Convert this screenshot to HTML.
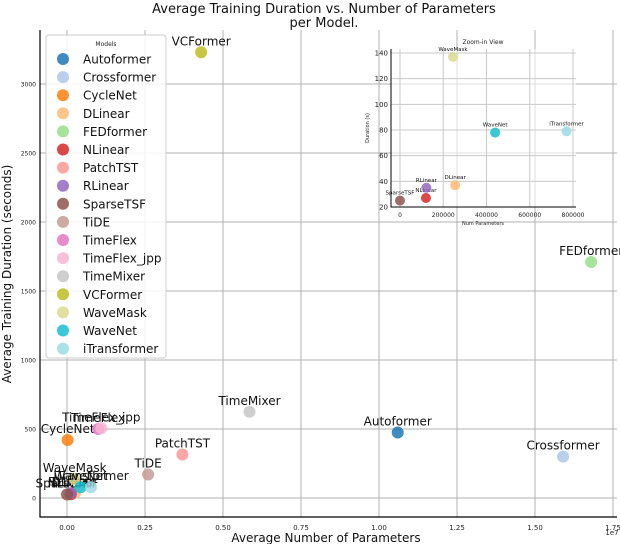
<!DOCTYPE html>
<html><head><meta charset="utf-8"><style>
body{margin:0;background:#fff;font-family:"Liberation Sans","DejaVu Sans",sans-serif}
svg text{font-family:"DejaVu Sans","Liberation Sans",sans-serif}
</style></head><body>
<svg id="chart" width="620" height="544" xmlns="http://www.w3.org/2000/svg"></svg>
<script>
const models=["Autoformer","Crossformer","CycleNet","DLinear","FEDformer","NLinear","PatchTST","RLinear","SparseTSF","TiDE","TimeFlex","TimeFlex_jpp","TimeMixer","VCFormer","WaveMask","WaveNet","iTransformer"];
const params=[10600000,15900000,20000,255000,16800000,120000,3700000,122000,0,2600000,1000000,1100000,5850000,4300000,245000,440000,770000];
const durations=[475,300,420,37,1710,27,315,35,25,170,500,505,625,3230,137,78,79];
const colors=["#1f77b4","#aec7e8","#ff7f0e","#ffbb78","#98df8a","#d62728","#ff9896","#9467bd","#8c564b","#c49c94","#e377c2","#f7b6d2","#c7c7c7","#bcbd22","#dbdb8d","#17becf","#9edae5"];
const xTicks=[0,0.25,0.5,0.75,1.0,1.25,1.5,1.75];
const xTickLabels=["0.00","0.25","0.50","0.75","1.00","1.25","1.50","1.75"];
const yTicks=[0,500,1000,1500,2000,2500,3000];
const insetModels=["DLinear","NLinear","RLinear","SparseTSF","WaveMask","WaveNet","iTransformer"];
const insetXTicks=[0,200000,400000,600000,800000];
const insetYTicks=[20,40,60,80,100,120,140];

const NS="http://www.w3.org/2000/svg";
const svg=document.getElementById('chart');
function mk(tag,attrs,parent,txt){const e=document.createElementNS(NS,tag);for(const k in attrs)e.setAttribute(k,attrs[k]);if(txt!==undefined)e.textContent=txt;(parent||svg).appendChild(e);return e;}
const L=40,R=617,T=30,B=517;
const xs=v=>67+v/1e7*312;
const ys=v=>498-v*0.138;

// grid
xTicks.forEach((t,i)=>{const x=xs(t*1e7);
 const g=mk('line',{x1:x,x2:x,y1:T,y2:B,stroke:'#b0b0b0','stroke-width':1});
 
 const tl=mk('text',{x:x,y:530,'font-size':7,'text-anchor':'middle',fill:'#222'},null,xTickLabels[i]);
 });
yTicks.forEach(t=>{const y=ys(t);
 const g=mk('line',{x1:L,x2:R,y1:y,y2:y,stroke:'#b0b0b0','stroke-width':1});
 
 const tl=mk('text',{x:36,y:y+2.5,'font-size':6,'text-anchor':'end',fill:'#222'},null,String(t));
 });
const sp=mk('path',{d:`M${L},${T}V${B}H${R}`,fill:'none',stroke:'#000','stroke-width':1.2});


// points
models.forEach((m,i)=>{const x=xs(params[i]),y=ys(durations[i]);
 const c=mk('circle',{cx:x,cy:y,r:6,fill:colors[i],'fill-opacity':0.85});
 
 const t=mk('text',{x:x,y:y-7,'font-size':12,'text-anchor':'middle',fill:'#111'},null,m);
 });

// titles
let e;
e=mk('text',{x:324,y:13,'font-size':13,'text-anchor':'middle',fill:'#111'},null,'Average Training Duration vs. Number of Parameters');

e=mk('text',{x:324,y:27,'font-size':13,'text-anchor':'middle',fill:'#111'},null,'per Model.');

e=mk('text',{x:326,y:542,'font-size':12,'text-anchor':'middle',fill:'#111'},null,'Average Number of Parameters');

e=mk('text',{x:0,y:0,'font-size':12,'text-anchor':'middle',fill:'#111',transform:'translate(11,274) rotate(-90)'},null,'Average Training Duration (seconds)');

e=mk('text',{x:612,y:535,'font-size':7,'text-anchor':'middle',fill:'#222'},null,'1e7');


// legend
const lg=mk('g',{});
mk('rect',{x:46,y:35,width:120,height:323,rx:3,fill:'#fff','fill-opacity':0.85,stroke:'#ccc'},lg);
mk('text',{x:106,y:46,'font-size':6,'text-anchor':'middle',fill:'#222'},lg,'Models');
models.forEach((m,i)=>{const y=59+i*18.1;
 const g=mk('g',{},lg);
 mk('circle',{cx:63,cy:y,r:6,fill:colors[i],'fill-opacity':0.85},g);
 mk('text',{x:83,y:y+4.5,'font-size':12,fill:'#111'},g,m);});

// inset
const IL=391,IR=576,IT=49,IB=207;
const ixs=v=>400+v/800000*173;
const iys=v=>207-(v-20)*154/120;
const ig=mk('g',{});
mk('rect',{x:IL,y:IT,width:IR-IL,height:IB-IT,fill:'#fff','fill-opacity':0.6},ig);
insetXTicks.forEach(t=>{const x=ixs(t);
 mk('line',{x1:x,x2:x,y1:IT,y2:IB,stroke:'#c8c8c8'},ig);
 mk('text',{x:x,y:217,'font-size':6,'text-anchor':'middle',fill:'#222'},ig,String(t));});
insetYTicks.forEach(t=>{const y=iys(t);
 mk('line',{x1:IL,x2:IR,y1:y,y2:y,stroke:'#c8c8c8'},ig);
 mk('text',{x:388,y:y+2.5,'font-size':7,'text-anchor':'end',fill:'#222'},ig,String(t));});
mk('path',{d:`M${IL},${IT}V${IB}H${IR}`,fill:'none',stroke:'#000','stroke-width':1},ig);
mk('text',{x:483,y:44,'font-size':6,'text-anchor':'middle',fill:'#222'},ig,'Zoom-in View');
mk('text',{x:483,y:225,'font-size':5,'text-anchor':'middle',fill:'#222'},ig,'Num Parameters');
mk('text',{x:0,y:0,'font-size':5,'text-anchor':'middle',fill:'#222',transform:'translate(369,128) rotate(-90)'},ig,'Duration (s)');
insetModels.forEach(m=>{const i=models.indexOf(m);const x=ixs(params[i]),y=iys(durations[i]);
 const c=mk('circle',{cx:x,cy:y,r:5,fill:colors[i],'fill-opacity':0.85},ig);
 
 mk('text',{x:x,y:y-6,'font-size':5.5,'text-anchor':'middle',fill:'#111'},ig,m);});
</script>
</body></html>
